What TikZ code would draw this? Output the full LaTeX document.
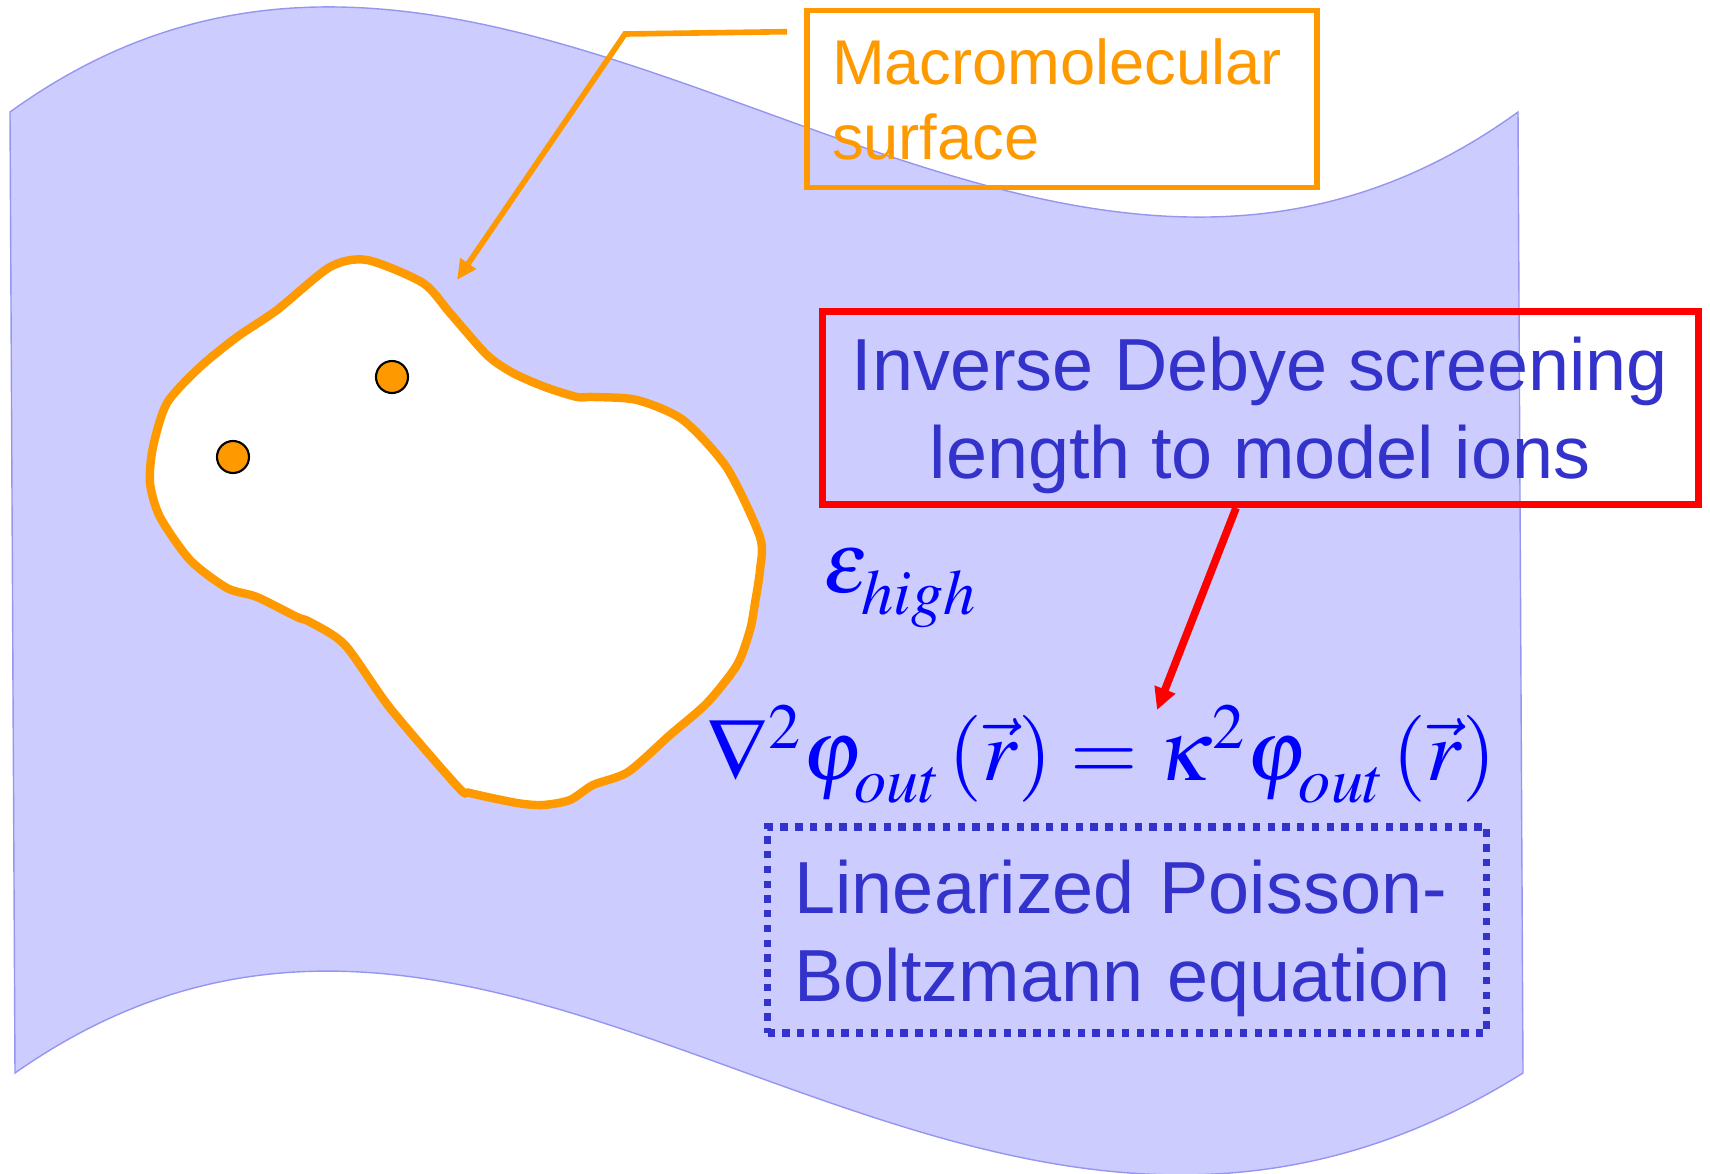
\documentclass[tikz,border=0pt]{standalone}
\usepackage{mathptmx}
\usepackage{fontspec}
\newfontfamily\arialfont{Liberation Sans}
\usepackage{xcolor}
\usetikzlibrary{arrows.meta}

\definecolor{sheetfill}{RGB}{204,204,255}
\definecolor{sheetline}{RGB}{150,150,240}
\definecolor{surforange}{RGB}{255,153,0}
\definecolor{labelblue}{RGB}{51,51,204}
\definecolor{eqblue}{RGB}{0,0,255}
\definecolor{boxred}{RGB}{255,0,0}

\newcommand{\lowsub}[1]{\lower0.9mm\hbox{$\scriptstyle #1$}}

\begin{document}
\begin{tikzpicture}[x=0.1mm, y=-0.1mm,
    charge/.style={circle, draw=black, line width=0.6pt, fill=surforange, minimum size=3.2mm, inner sep=0pt},
    callout/.style={font=\arialfont\fontsize{21}{25}\selectfont, text=labelblue},
    mathlbl/.style={anchor=base west, inner sep=0pt, text=eqblue, font=\fontsize{24.7}{30}\selectfont}]
    \useasboundingbox (0,0) rectangle (1710,1174);

    % Solvent sheet
    \draw[fill=sheetfill, draw=sheetline, line width=0.4pt]
        (10,112) .. controls (513,-252) and (1015,476) .. (1518,112)
        -- (1523,1073) .. controls (960,1426) and (518,720) .. (15,1073) -- cycle;

    % Macromolecule
    \draw[surforange, line width=2.4pt, fill=white] plot[smooth cycle, tension=0.45] coordinates {
        (367,260) (423,283) (450,313) (487,355) (513,373) (545,387) (577,397) (593,397)
        (637,400) (683,420) (727,468) (760,537) (760,570) (755,603) (750,630) (737,665)
        (707,703) (670,735) (628,772) (593,785) (570,800) (543,805) (517,803) (470,793)
        (458,787) (390,708) (345,645) (310,622) (297,617) (257,597) (227,588) (190,560)
        (160,517) (150,483) (153,447) (167,403) (200,367) (237,337) (277,310) (330,267)};
    \node[charge] (charge1) at (392,377) {};
    \node[charge] (charge2) at (233,457) {};

    % Surface label
    \node[draw=surforange, line width=1.6pt, minimum width=51mm, minimum height=17.7mm,
          text width=46mm, inner xsep=2.5mm, align=left, text=surforange,
          font=\arialfont\fontsize{18}{21.3}\selectfont] (surf_box) at (1062,99) {Macromolecular\\surface};
    \coordinate (surf_pt) at (457,280);
    \coordinate (lead_bend) at (625,34);
    \draw[surforange, line width=1.6pt, -{Triangle[length=2mm,width=1.8mm]}]
        ([xshift=-1.7mm, yshift=-2.4mm]surf_box.north west) -- (lead_bend) -- (surf_pt);

    % Dielectric
    \node[mathlbl] (eps_lbl) at (823,592) {$\epsilon_{\lowsub{high}}$};

    % Debye callout
    \node[callout, draw=boxred, line width=2pt, minimum width=87.6mm, minimum height=19.3mm,
          text depth=-1.8pt, align=center] (debye_box) at (1260,408) {Inverse Debye screening\\length to model ions};
    \coordinate (kappa_pt) at (1157,710);
    \draw[boxred, line width=2.2pt, -{Triangle[length=2.2mm,width=2.1mm]}]
        ([xshift=-2.4mm]debye_box.south) -- (kappa_pt);

    % Equation
    \node[mathlbl] (lpb_eq) at (706,780)
        {$\nabla^2\varphi_{\lowsub{out}}\mkern1.5mu(\vec{r}) = \kappa^2\varphi_{\lowsub{out}}\mkern1.5mu(\vec{r})$};
    \node[callout, draw=labelblue, line width=2.1pt, dash pattern=on 2.1pt off 2.1pt,
          minimum width=71.9mm, minimum height=20.6mm, text width=66.5mm, inner xsep=2.7mm,
          text depth=24.8pt, align=left] (lpb_box) at (1127,930) {Linearized Poisson-\\Boltzmann equation};
\end{tikzpicture}
\end{document}
